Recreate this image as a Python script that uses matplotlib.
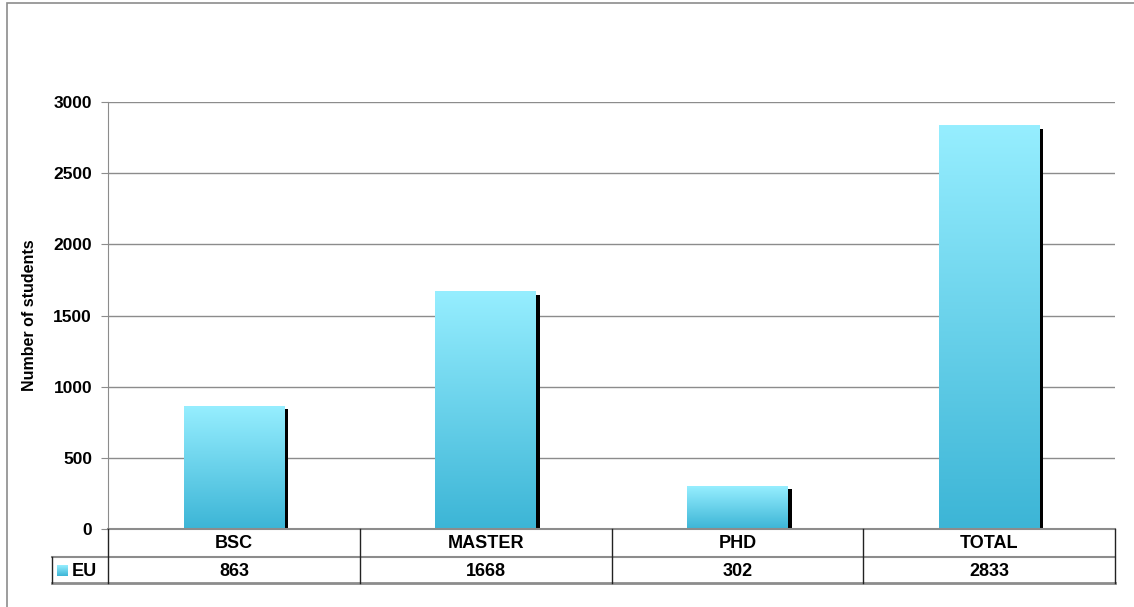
import numpy as np
import matplotlib
matplotlib.use("Agg")
import matplotlib.pyplot as plt
from matplotlib.patches import Rectangle
from matplotlib.lines import Line2D
import matplotlib.transforms as mtransforms
from matplotlib.colors import LinearSegmentedColormap

categories = ["BSC", "MASTER", "PHD", "TOTAL"]
series_name = "EU"
values = [863, 1668, 302, 2833]
yticks = [0, 500, 1000, 1500, 2000, 2500, 3000]
ylabel = "Number of students"

W, H = 1134, 607
plt.rcParams['font.family'] = ['Liberation Sans', 'DejaVu Sans']
plt.rcParams['font.weight'] = 'bold'
fig = plt.figure(figsize=(W / 100, H / 100), dpi=100)

def fx(px):
    return px / W

def fy(py):
    return 1 - py / H

# outer frame
fig.add_artist(Rectangle((fx(7), fy(640)), fx(1200) - fx(7), fy(3) - fy(640),
                         transform=fig.transFigure, fill=False, edgecolor='#8c8c8c', lw=1.2))

L, R, T, B = 108, 1115, 102, 529
ax = fig.add_axes([fx(L), fy(B), fx(R) - fx(L), fy(T) - fy(B)])
n = len(categories)
ax.set_xlim(-0.5, n - 0.5)
ax.set_ylim(0, 3000)
ax.set_yticks(yticks)
ax.set_yticklabels([str(t) for t in yticks], fontsize=12.5, fontweight='bold')
ax.set_xticks([])
for s in ['top', 'right', 'bottom']:
    ax.spines[s].set_visible(False)
ax.spines['left'].set_color('#8c8c8c')
ax.tick_params(axis='y', length=5, color='#8c8c8c', pad=6.5)
ax.yaxis.grid(True, color='#8c8c8c', lw=1)
ax.set_axisbelow(True)
ax.set_ylabel(ylabel, fontsize=11.5, fontweight='bold')
ax.yaxis.set_label_coords((37 - L) / (R - L), 0.5)

grad = np.linspace(0, 1, 256).reshape(-1, 1)
cmap = LinearSegmentedColormap.from_list('g', ['#3cb5d6', '#96eeff'])
bw = 0.4
shadow_off = mtransforms.offset_copy(ax.transData, fig=fig, x=4, y=-3, units='dots')
for i, v in enumerate(values):
    ax.add_patch(Rectangle((i - bw / 2, 0), bw, v, facecolor='black', edgecolor='none',
                           transform=shadow_off, zorder=2))
    ax.imshow(grad, extent=[i - bw / 2, i + bw / 2, 0, v], origin='lower', cmap=cmap,
              aspect='auto', zorder=3, interpolation='bilinear')
ax.set_xlim(-0.5, n - 0.5)
ax.set_ylim(0, 3000)

# table
tb = fig.add_axes([fx(52), fy(583), fx(R) - fx(52), fy(B) - fy(583)])
tb.axis('off')
cw = (R - L) / n
gray = '#8c8c8c'
dark = '#222222'
tb.add_line(Line2D([L, R], [B, B], color=gray, lw=1.5, clip_on=False))
tb.add_line(Line2D([52, R], [557, 557], color=gray, lw=1.5, clip_on=False))
tb.add_line(Line2D([52, R], [583, 583], color=gray, lw=2, clip_on=False))
for k in range(n + 1):
    x = L + k * cw
    tb.add_line(Line2D([x, x], [B, 583], color=dark, lw=1, clip_on=False))
tb.add_line(Line2D([52, 52], [557, 583], color=dark, lw=1, clip_on=False))
for i, (c, v) in enumerate(zip(categories, values)):
    xc = L + (i + 0.5) * cw
    tb.text(xc, 543.5, c, ha='center', va='center', fontsize=13, fontweight='bold')
    tb.text(xc, 571, str(v), ha='center', va='center', fontsize=13, fontweight='bold')
tb.imshow(grad, extent=[57, 68, 576.5, 565.5], origin='lower', cmap=cmap, aspect='auto',
          zorder=3)
tb.set_xlim(52, R)
tb.set_ylim(583, B)
tb.text(72, 571, series_name, ha='left', va='center', fontsize=13, fontweight='bold')

fig.savefig('out.png', dpi=100)
